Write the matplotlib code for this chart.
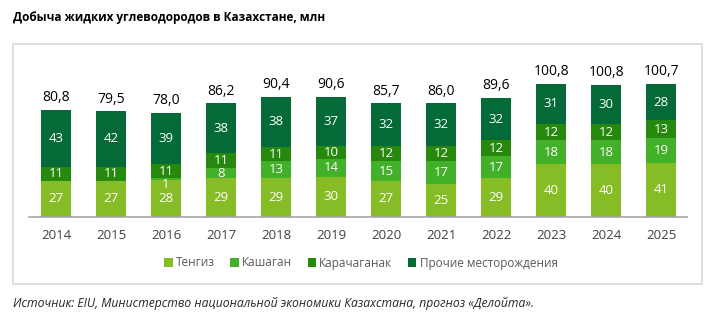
import numpy as np
import matplotlib.pyplot as plt
from matplotlib.patches import Rectangle

plt.rcParams['font.family'] = ['Open Sans', 'DejaVu Sans']

annees = ['2014', '2015', '2016', '2017', '2018', '2019', '2020', '2021', '2022', '2023', '2024', '2025']
tengiz = [27, 27, 28, 29, 29, 30, 27, 25, 29, 40, 40, 41]
kashagan = [0, 0, 1, 8, 13, 14, 15, 17, 17, 18, 18, 19]
karachaganak = [11, 11, 11, 11, 11, 10, 12, 12, 12, 12, 12, 13]
prochie = [43, 42, 39, 38, 38, 37, 32, 32, 32, 31, 30, 28]
totaux = [80.8, 79.5, 78.0, 86.2, 90.4, 90.6, 85.7, 86.0, 89.6, 100.8, 100.8, 100.7]

series = [tengiz, kashagan, karachaganak, prochie]
noms = ['Тенгиз', 'Кашаган', 'Карачаганак', 'Прочие месторождения']
couleurs = ['#86bc25', '#43b02a', '#26890d', '#046a38']

W, H = 720, 329
fig = plt.figure(figsize=(W / 100, H / 100), dpi=100)

# cadre gris autour du graphique
fig.patches.append(Rectangle((13 / W, 1 - 284 / H), (702 - 13) / W, (284 - 44) / H,
                             transform=fig.transFigure, fill=False,
                             edgecolor='#d9d9d9', linewidth=1.2))

base = 216.7
ax = fig.add_axes([29 / W, 1 - base / H, (687 - 29) / W, 145 / H])
x = np.arange(len(annees))
bas = np.zeros(len(annees))
for vals, nom, c in zip(series, noms, couleurs):
    vals = np.array(vals, dtype=float)
    ax.bar(x, vals, 0.545, bottom=bas, color=c, label=nom)
    for i in range(len(x)):
        if vals[i] > 0:
            y = bas[i] + vals[i] / 2
            if vals[i] < 3:
                # petit segment : étiquette décalée vers le bas
                y = bas[i] - 3.5
            ax.text(x[i], y, '%d' % vals[i], ha='center', va='center',
                    color='white', fontsize=9.5)
    bas += vals

for i in range(len(x)):
    ax.text(x[i], bas[i] + 3.5, ('%.1f' % totaux[i]).replace('.', ','),
            ha='center', va='bottom', fontsize=10, color='black', clip_on=False)

ax.set_xlim(-0.49, 11.47)
ax.set_ylim(0, 110)
ax.set_xticks(x)
ax.set_xticklabels(annees, fontsize=9.5, color='#404040')
ax.tick_params(axis='x', length=0, pad=9)
ax.set_yticks([])
for s in ['top', 'right', 'left']:
    ax.spines[s].set_visible(False)
ax.spines['bottom'].set_color('#a6a6a6')
ax.spines['bottom'].set_linewidth(1.2)

fig.legend(loc='center', bbox_to_anchor=(361 / W, 1 - 263 / H), ncol=4, frameon=False,
           fontsize=8.5, handlelength=0.7, handleheight=0.7, handletextpad=0.3,
           columnspacing=1.3, labelcolor='#595959')

fig.text(13 / W, 1 - 18 / H, 'Добыча жидких углеводородов в Казахстане, млн',
         fontsize=8.5, fontweight='bold', color='black', va='center')
fig.text(13 / W, 1 - 304 / H,
         'Источник: EIU, Министерство национальной экономики Казахстана, прогноз «Делойта».',
         fontsize=8.7, style='italic', color='#262626', va='center')

fig.savefig('out.png', dpi=100)
